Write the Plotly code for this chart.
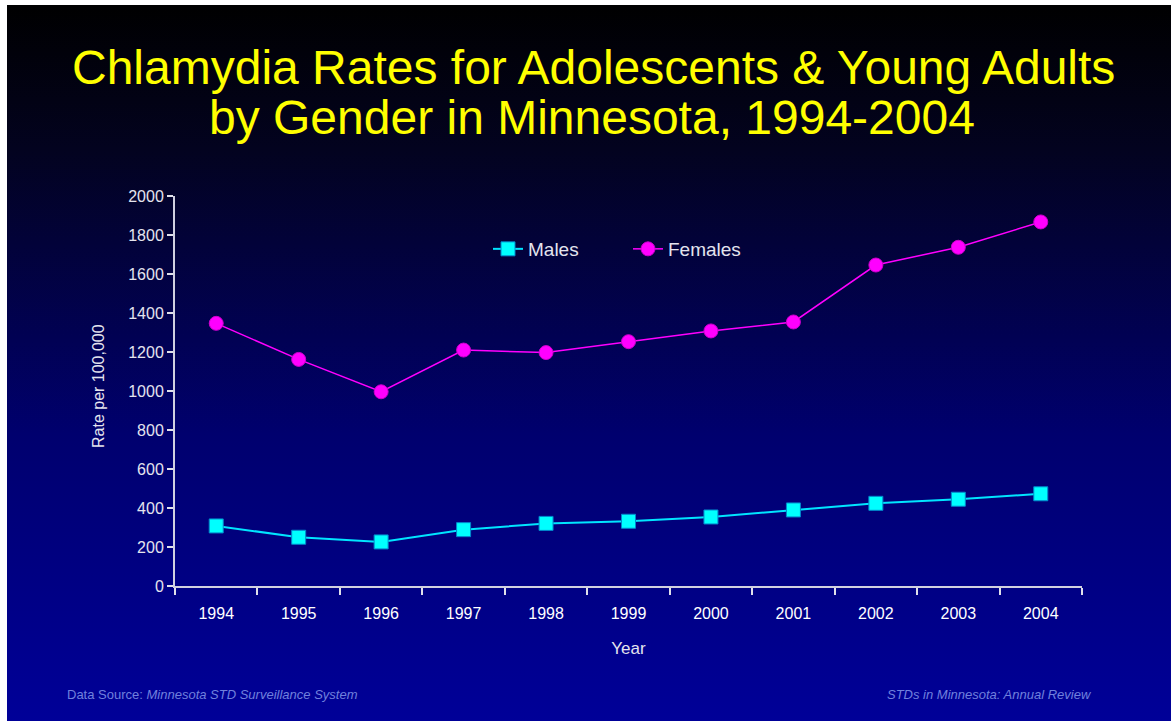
import base64
import plotly.graph_objects as go

years = ["1994", "1995", "1996", "1997", "1998", "1999", "2000", "2001", "2002", "2003", "2004"]
males = [308, 250, 226, 289, 321, 332, 354, 390, 424, 445, 473]
females = [1347, 1162, 996, 1210, 1197, 1253, 1308, 1354, 1646, 1737, 1867]
y_ticks = [0, 200, 400, 600, 800, 1000, 1200, 1400, 1600, 1800, 2000]

W, H = 1171, 721
L, R, T, B = 175, 89, 196, 135
PW, PH = W - L - R, H - T - B


def px(x):
    return (x - L) / PW


def py(y):
    return (H - B - y) / PH


svg = (
    '<svg xmlns="http://www.w3.org/2000/svg" width="100" height="100" preserveAspectRatio="none">'
    '<defs><linearGradient id="g" x1="0" y1="0" x2="0" y2="1">'
    '<stop offset="0" stop-color="#000000"/>'
    '<stop offset="0.2" stop-color="#03031f"/>'
    '<stop offset="0.6" stop-color="#00006e"/>'
    '<stop offset="1" stop-color="#000098"/>'
    '</linearGradient></defs>'
    '<rect x="0" y="0" width="100" height="100" fill="url(#g)"/></svg>'
)
bg_src = "data:image/svg+xml;base64," + base64.b64encode(svg.encode()).decode()

fig = go.Figure()
fig.add_trace(go.Scatter(
    x=years, y=males, name="Males", mode="lines+markers",
    line=dict(color="#00E5FF", width=2),
    marker=dict(symbol="square", size=14, color="#00FFFF", line=dict(color="#0088CC", width=1)),
))
fig.add_trace(go.Scatter(
    x=years, y=females, name="Females", mode="lines+markers",
    line=dict(color="#FF00FF", width=1.5),
    marker=dict(symbol="circle", size=14, color="#FF00FF", line=dict(color="#CC00CC", width=1)),
))

font_main = "Liberation Sans, Arial, sans-serif"
tick_col = "#E4E4EE"

fig.update_layout(
    width=W, height=H,
    margin=dict(l=L, r=R, t=T, b=B, autoexpand=False),
    paper_bgcolor="white",
    plot_bgcolor="rgba(0,0,0,0)",
    font=dict(family=font_main, color=tick_col),
    showlegend=True,
    legend=dict(
        orientation="h", x=px(488), y=py(249), xanchor="left", yanchor="middle",
        bgcolor="rgba(0,0,0,0)", font=dict(size=19, color="#E4E4EE", family=font_main),
        itemwidth=30, tracegroupgap=0, entrywidth=95, entrywidthmode="pixels",
    ),
    xaxis=dict(
        type="category", categoryorder="array", categoryarray=years,
        range=[-0.5, len(years) - 0.5],
        showline=True, linecolor="#D0D0E0", linewidth=2,
        ticks="outside", tickson="boundaries", ticklen=7, tickwidth=2, tickcolor="#E0E0EA",
        showgrid=False, zeroline=False,
        tickfont=dict(size=16, color="#FFFFFF", family=font_main),
        ticklabelstandoff=12,
        title=dict(text="Year", font=dict(size=17, color=tick_col), standoff=21),
    ),
    yaxis=dict(
        range=[0, 2000], tickmode="array", tickvals=y_ticks,
        showline=True, linecolor="#D0D0E0", linewidth=2,
        ticks="outside", ticklen=6, tickwidth=2, tickcolor="#E0E0EA",
        showgrid=False, zeroline=False,
        tickfont=dict(size=16, color=tick_col, family=font_main),
    ),
    images=[dict(
        source=bg_src, xref="paper", yref="paper",
        x=px(7), y=py(5), sizex=px(W) - px(7), sizey=py(5) - py(H),
        xanchor="left", yanchor="top", sizing="stretch", layer="below",
    )],
    annotations=[
        dict(text="Chlamydia Rates for Adolescents &amp; Young Adults", xref="paper", yref="paper",
             x=px(593), y=py(67), xanchor="center", yanchor="middle", showarrow=False,
             font=dict(size=48, color="#FFFF00", family=font_main)),
        dict(text="by Gender in Minnesota, 1994-2004", xref="paper", yref="paper",
             x=px(592), y=py(117), xanchor="center", yanchor="middle", showarrow=False,
             font=dict(size=48, color="#FFFF00", family=font_main)),
        dict(text="Rate per 100,000", xref="paper", yref="paper", textangle=-90,
             x=px(98), y=py(450), xanchor="center", yanchor="bottom", showarrow=False,
             font=dict(size=16, color=tick_col, family=font_main)),
        dict(text="Data Source: <i>Minnesota STD Surveillance System</i>", xref="paper", yref="paper",
             x=px(65), y=py(694), xanchor="left", yanchor="middle", showarrow=False,
             font=dict(size=13, color="#7080DD", family=font_main)),
        dict(text="<i>STDs in Minnesota: Annual Review</i>", xref="paper", yref="paper",
             x=px(1094), y=py(694), xanchor="right", yanchor="middle", showarrow=False,
             font=dict(size=13, color="#7080DD", family=font_main)),
    ],
)

fig.write_html("out.html", config={"displayModeBar": False},
               post_script="document.body.style.margin='0px';")
